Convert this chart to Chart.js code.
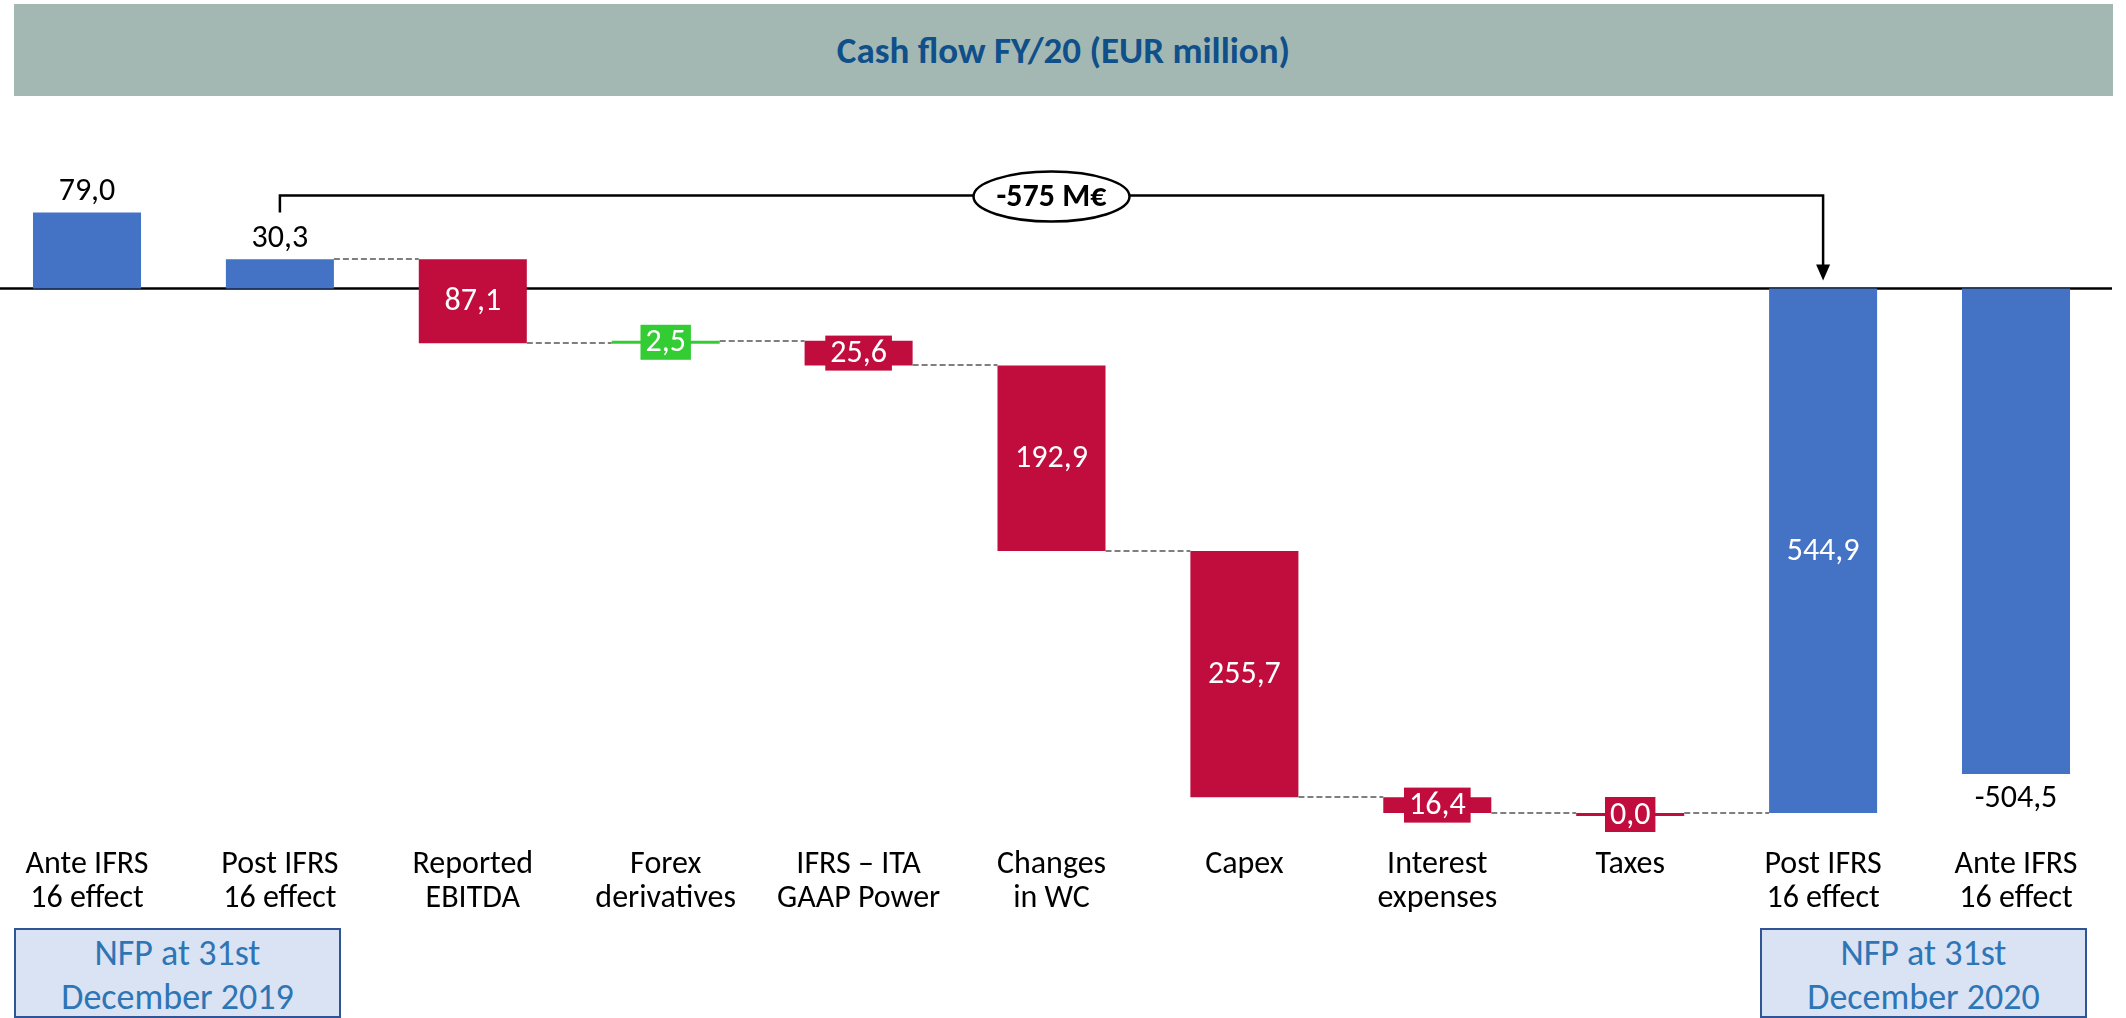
<!DOCTYPE html>
<html>
<head>
<meta charset="utf-8">
<script src="https://cdn.jsdelivr.net/npm/chart.js@4.4.1/dist/chart.umd.min.js"></script>
<style>
    html, body { margin: 0; padding: 0; background: #fff; }
    body {
        width: 2126px; height: 1018px; position: relative; overflow: hidden;
        font-family: Carlito, 'Liberation Sans Narrow', Roboto, sans-serif;
    }
    #chart { position: absolute; left: 0; top: 0; }
    .banner {
        position: absolute; left: 14px; top: 4px; width: 2099px; height: 92px;
        background: #A3B8B2; color: #0F4F8A; font-weight: bold; font-size: 37px;
        display: flex; align-items: center; justify-content: center;
    }
    .nfp {
        position: absolute; top: 928px; width: 327px; height: 90px; box-sizing: border-box;
        border: 2px solid #2F5597; background: #DAE3F3; color: #2E75B6;
        font-size: 36px; line-height: 44px; text-align: center; padding-top: 1px;
    }
</style>
</head>
<body>
<canvas id="chart" width="2126" height="1018"></canvas>
<div class="banner">Cash flow FY/20 (EUR million)</div>
<div class="nfp" style="left:14px">NFP at 31st<br>December 2019</div>
<div class="nfp" style="left:1760px">NFP at 31st<br>December 2020</div>
<script>
// Cash flow FY/20 waterfall (EUR million)
const categories = [
    ['Ante IFRS', '16 effect'], ['Post IFRS', '16 effect'], ['Reported', 'EBITDA'],
    ['Forex', 'derivatives'], ['IFRS – ITA', 'GAAP Power'], ['Changes', 'in WC'],
    ['Capex'], ['Interest', 'expenses'], ['Taxes'],
    ['Post IFRS', '16 effect'], ['Ante IFRS', '16 effect']
];
const opening = [79.0, 30.3];        // NFP 31/12/2019: ante, post IFRS 16
const movements = [-87.1, 2.5, -25.6, -192.9, -255.7, -16.4, 0.0];
const closing = [-544.9, -504.5];    // NFP 31/12/2020: post, ante IFRS 16
const labelPlacement = ['above', 'above', 'inside', 'box', 'box', 'inside', 'inside', 'box', 'box', 'inside', 'below'];

const BLUE = '#4472C4', RED = '#C00D3D', GREEN = '#33CC33';
const FONT = "Carlito, 'Liberation Sans Narrow', Roboto, sans-serif";

// build floating ranges for the waterfall
const ranges = [[0, opening[0]], [0, opening[1]]];
const values = [opening[0], opening[1]];
const colors = [BLUE, BLUE];
let running = opening[1];
movements.forEach(m => {
    ranges.push([running, running + m]);
    values.push(m);
    colors.push(m > 0 ? GREEN : RED);
    running += m;
});
closing.forEach(v => {
    ranges.push([0, v]);
    values.push(v);
    colors.push(BLUE);
});

function fmt(v) {
    return v.toFixed(1).replace('.', ',');
}

const waterfallDecor = {
    id: 'waterfallDecor',
    beforeDatasetsDraw(chart) {
        const { ctx } = chart;
        const y0 = chart.scales.y.getPixelForValue(0);
        ctx.save();
        ctx.strokeStyle = '#000';
        ctx.lineWidth = 2.5;
        ctx.beginPath();
        ctx.moveTo(0, y0);
        ctx.lineTo(chart.width - 14, y0);
        ctx.stroke();
        ctx.restore();
    },
    afterDatasetsDraw(chart) {
        const { ctx } = chart;
        const yScale = chart.scales.y;
        const bars = chart.getDatasetMeta(0).data;
        const y0 = yScale.getPixelForValue(0);
        ctx.save();

        // dashed connectors between steps
        ctx.strokeStyle = '#7F7F7F';
        ctx.lineWidth = 2;
        ctx.setLineDash([6, 3]);
        for (let i = 1; i <= 8; i++) {
            const a = bars[i], b = bars[i + 1];
            const y = Math.round(yScale.getPixelForValue(ranges[i][1]));
            ctx.beginPath();
            ctx.moveTo(a.x + a.width / 2, y);
            ctx.lineTo(b.x - b.width / 2, y);
            ctx.stroke();
        }
        ctx.setLineDash([]);

        // value labels
        ctx.font = '32px ' + FONT;
        ctx.textAlign = 'center';
        bars.forEach((bar, i) => {
            const top = Math.min(bar.y, bar.base);
            const bottom = Math.max(bar.y, bar.base);
            const mid = (top + bottom) / 2;
            const place = labelPlacement[i];
            if (place === 'above') {
                ctx.fillStyle = '#000';
                ctx.textBaseline = 'alphabetic';
                ctx.fillText(fmt(values[i]), bar.x, top - 12);
            } else if (place === 'below') {
                ctx.fillStyle = '#000';
                ctx.textBaseline = 'middle';
                ctx.fillText(fmt(values[i]), bar.x, bottom + 25);
            } else {
                const text = fmt(Math.abs(values[i]));
                if (place === 'box') {
                    const w = ctx.measureText(text).width + 10;
                    ctx.fillStyle = colors[i];
                    ctx.fillRect(bar.x - w / 2, mid - 17.5, w, 35);
                }
                ctx.fillStyle = '#fff';
                ctx.textBaseline = 'middle';
                ctx.fillText(text, bar.x, mid + 1);
            }
        });

        // bracket with total change
        const x1 = bars[1].x, x2 = bars[9].x;
        const yLine = y0 - 93;
        ctx.strokeStyle = '#000';
        ctx.lineWidth = 2.5;
        ctx.beginPath();
        ctx.moveTo(x1, y0 - 76);
        ctx.lineTo(x1, yLine);
        ctx.lineTo(x2, yLine);
        ctx.lineTo(x2, y0 - 22);
        ctx.stroke();
        ctx.fillStyle = '#000';
        ctx.beginPath();
        ctx.moveTo(x2 - 7, y0 - 24);
        ctx.lineTo(x2 + 7, y0 - 24);
        ctx.lineTo(x2, y0 - 8);
        ctx.closePath();
        ctx.fill();

        const cx = (x1 + x2) / 2;
        ctx.beginPath();
        ctx.ellipse(cx, yLine + 1, 78, 25, 0, 0, Math.PI * 2);
        ctx.fillStyle = '#fff';
        ctx.fill();
        ctx.stroke();
        const delta = Math.round(closing[0] - opening[1]);
        ctx.fillStyle = '#000';
        ctx.font = 'bold 32px ' + FONT;
        ctx.textBaseline = 'middle';
        ctx.fillText(delta + ' M€', cx, yLine + 2);
        ctx.restore();
    }
};

new Chart(document.getElementById('chart'), {
    type: 'bar',
    data: {
        labels: categories,
        datasets: [{
            data: ranges,
            backgroundColor: colors,
            borderWidth: 0,
            borderSkipped: false,
            minBarLength: 3,
            categoryPercentage: 1,
            barPercentage: 0.56,
            clip: false
        }]
    },
    options: {
        responsive: false,
        devicePixelRatio: 1,
        animation: false,
        layout: { padding: { left: 87, right: 110, top: 96, bottom: 0 } },
        plugins: { legend: { display: false }, tooltip: { enabled: false } },
        scales: {
            x: {
                offset: false,
                grid: { display: false },
                border: { display: false },
                ticks: {
                    color: '#000',
                    font: { family: FONT, size: 32, lineHeight: 1.06 },
                    padding: 4,
                    maxRotation: 0,
                    autoSkip: false
                },
                afterFit(scale) {
                    scale.height = 181.8;
                    scale.paddingLeft = 0;
                    scale.paddingRight = 0;
                }
            },
            y: {
                display: false,
                min: -569,
                max: 200
            }
        }
    },
    plugins: [waterfallDecor]
});
</script>
</body>
</html>
